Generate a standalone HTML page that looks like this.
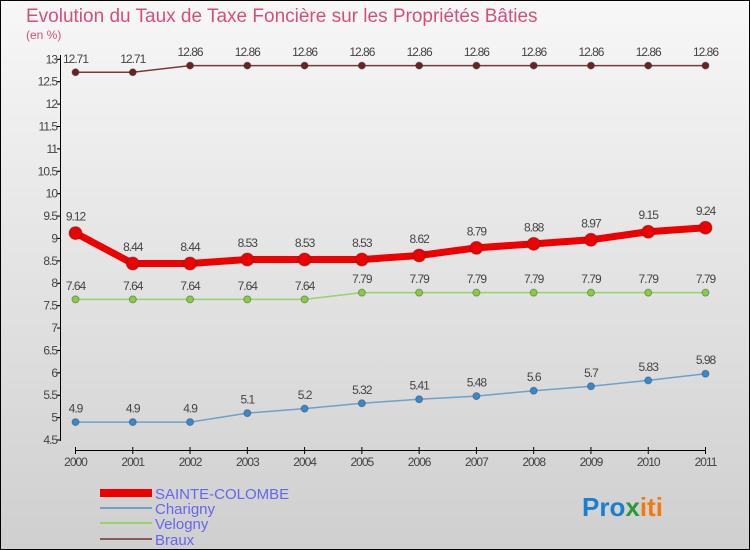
<!DOCTYPE html>
<html><head><meta charset="utf-8"><style>
body{margin:0}
#c{width:750px;height:550px;position:relative;overflow:hidden;font-family:"Liberation Sans",sans-serif}
</style></head><body>
<div id="c">
<svg id="s" width="750" height="550" xmlns="http://www.w3.org/2000/svg">
<defs><linearGradient id="bg" x1="0" y1="0" x2="0" y2="1"><stop offset="0" stop-color="#f7f7f7"/><stop offset="1" stop-color="#cfcfcf"/></linearGradient></defs>
<rect x="0.5" y="0.5" width="749" height="549" fill="url(#bg)" stroke="#000"/>
<text x="26" y="22" font-size="19" fill="#d4507a">Evolution du Taux de Taxe Foncière sur les Propriétés Bâties</text>
<text x="26" y="39" font-size="12" fill="#d4507a">(en %)</text>
<g id="axes"></g><g id="series"></g>
<g>
<rect x="100" y="489" width="52" height="8" fill="#e00"/>
<text x="155" y="499" font-size="15" fill="#6666ee">SAINTE-COLOMBE</text>
<rect x="100" y="507" width="52" height="2" fill="#6fa0cc"/>
<text x="155" y="514" font-size="15" fill="#6666ee">Charigny</text>
<rect x="100" y="522" width="52" height="2" fill="#99d070"/>
<text x="155" y="529" font-size="15" fill="#6666ee">Velogny</text>
<rect x="100" y="538" width="52" height="2" fill="#8a5a5a"/>
<text x="155" y="545" font-size="15" fill="#6666ee">Braux</text>
</g>
<text x="582" y="516" font-size="26" font-weight="bold"><tspan fill="#1a7fd0">Pro</tspan><tspan fill="#2a9a3a">x</tspan><tspan fill="#f07a10">iti</tspan></text>
</svg>
</div>
<script>
const years=[2000,2001,2002,2003,2004,2005,2006,2007,2008,2009,2010,2011];
const yTicks=[4.5,5,5.5,6,6.5,7,7.5,8,8.5,9,9.5,10,10.5,11,11.5,12,12.5,13];
const sainteColombe=[9.12,8.44,8.44,8.53,8.53,8.53,8.62,8.79,8.88,8.97,9.15,9.24];
const charigny=[4.9,4.9,4.9,5.1,5.2,5.32,5.41,5.48,5.6,5.7,5.83,5.98];
const velogny=[7.64,7.64,7.64,7.64,7.64,7.79,7.79,7.79,7.79,7.79,7.79,7.79];
const braux=[12.71,12.71,12.86,12.86,12.86,12.86,12.86,12.86,12.86,12.86,12.86,12.86];
const NS="http://www.w3.org/2000/svg";
const X=i=>75.5+i*(705.5-75.5)/(years.length-1);
const Y=v=>440-(v-4.5)*(440-59.3)/8.5;
function mk(t,a,p){const e=document.createElementNS(NS,t);for(const k in a)e.setAttribute(k,a[k]);p.appendChild(e);return e;}
const ax=document.getElementById('axes');
let l=mk('line',{x1:60.5,y1:55,x2:60.5,y2:441,stroke:'#000'},ax);


yTicks.forEach(v=>{const y=Y(v);
 let t=mk('line',{x1:57,x2:61,y1:y,y2:y,stroke:'#000'},ax);
 
 
 if(v<13){let m=mk('line',{x1:58,x2:61,y1:y-22.4,y2:y-22.4,stroke:'#e00'},ax);
 
 }
 let tx=mk('text',{x:57,y:y+4,'font-size':12,fill:'#444','text-anchor':'end','letter-spacing':'-1'},ax);tx.textContent=String(v);
 
 
});
let xa=mk('line',{x1:X(0),y1:450.5,x2:X(years.length-1),y2:450.5,stroke:'#000'},ax);


years.forEach((yr,i)=>{
 let t=mk('line',{x1:X(i),x2:X(i),y1:447,y2:454,stroke:'#000'},ax);
 
 
 let tx=mk('text',{x:X(i),y:466,'font-size':12,fill:'#444','text-anchor':'middle','letter-spacing':'-1'},ax);tx.textContent=yr;
 
 
});
const sg=document.getElementById('series');
function series(name,data,color,w,r,dot){
 const g=mk('g',{},sg);
 
 
 const pl=mk('polyline',{points:data.map((v,i)=>X(i)+','+Y(v)).join(' '),fill:'none',stroke:color,'stroke-width':w,'stroke-linejoin':'round'},g);
 
 
 data.forEach((v,i)=>{
  const c=mk('circle',{cx:X(i),cy:Y(v),r:r,fill:dot,stroke:'#333','stroke-opacity':0.4},g);
  
  
  const t=mk('text',{x:X(i),y:Y(v)-(r+6),'font-size':12,fill:'#444','text-anchor':'middle','letter-spacing':'-1'},g);
  t.textContent=String(v);
  
  
 });
}
series('braux',braux,'#7a3a3a',1.5,3.5,'#6a2222');
series('velogny',velogny,'#99d070',1.5,3.5,'#88cc44');
series('charigny',charigny,'#6fa0cc',1.5,3.5,'#3a88cc');
series('sainte-colombe',sainteColombe,'#ee0000',7,6.5,'#ee0000');
</script>
</body></html>
